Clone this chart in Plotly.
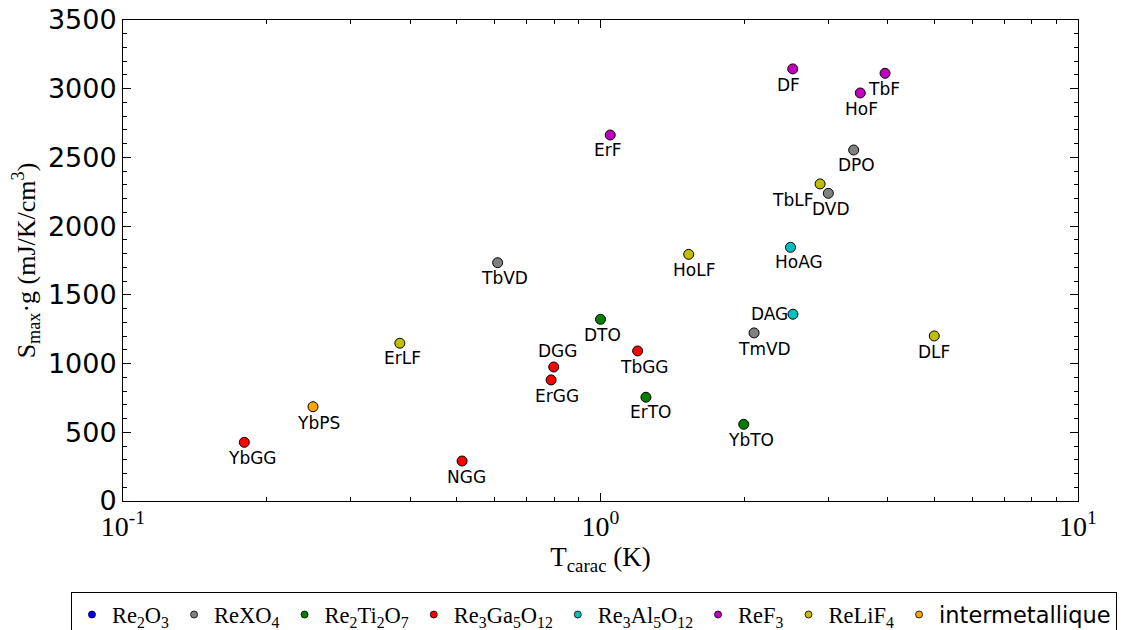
import numpy as np
import plotly.graph_objects as go

# ---- data ----
names = ["YbGG", "YbPS", "NGG", "ErLF", "TbVD", "DGG", "ErGG", "DTO", "TbGG", "ErTO",
         "YbTO", "TmVD", "DAG", "HoAG", "HoLF", "ErF", "DF", "HoF", "TbF", "DPO",
         "TbLF", "DVD", "DLF"]
t_carac = [0.1795, 0.250, 0.513, 0.380, 0.609, 0.798, 0.788, 1.00, 1.196, 1.245,
           1.995, 2.097, 2.53, 2.50, 1.53, 1.048, 2.527, 3.50, 3.944, 3.39,
           2.883, 3.00, 5.00]
s_max_g = [427, 686, 291, 1148, 1734, 975, 881, 1322, 1092, 755,
           558, 1223, 1359, 1846, 1795, 2663, 3144, 2969, 3112, 2554,
           2307, 2239, 1201]
families = ["Re3Ga5O12", "intermetallique", "Re3Ga5O12", "ReLiF4", "ReXO4", "Re3Ga5O12",
            "Re3Ga5O12", "Re2Ti2O7", "Re3Ga5O12", "Re2Ti2O7", "Re2Ti2O7", "ReXO4",
            "Re3Al5O12", "Re3Al5O12", "ReLiF4", "ReF3", "ReF3", "ReF3", "ReF3", "ReXO4",
            "ReLiF4", "ReXO4", "ReLiF4"]
family_order = ["Re2O3", "ReXO4", "Re2Ti2O7", "Re3Ga5O12", "Re3Al5O12", "ReF3", "ReLiF4",
                "intermetallique"]
family_labels = ["Re<sub>2</sub>O<sub>3</sub>", "ReXO<sub>4</sub>",
                 "Re<sub>2</sub>Ti<sub>2</sub>O<sub>7</sub>",
                 "Re<sub>3</sub>Ga<sub>5</sub>O<sub>12</sub>",
                 "Re<sub>3</sub>Al<sub>5</sub>O<sub>12</sub>",
                 "ReF<sub>3</sub>", "ReLiF<sub>4</sub>",
                 "<span style='font-family:DejaVu Sans'>intermetallique</span>"]
x_tick_vals = [0.1, 1, 10]
x_tick_text = ["10<sup>-1</sup>", "10<sup>0</sup>", "10<sup>1</sup>"]

# ---- styles ----
family_colors = {"Re2O3": "#0000ff", "ReXO4": "#808080", "Re2Ti2O7": "#007f00",
                 "Re3Ga5O12": "#ff0000", "Re3Al5O12": "#00bfbf", "ReF3": "#bf00bf",
                 "ReLiF4": "#bfbf00", "intermetallique": "#ffa500"}
# label offsets in pixels (dx right, dy down) relative to marker
label_offsets = {"YbGG": (8, 16), "YbPS": (5, 16), "NGG": (4, 16), "ErLF": (3, 15),
                 "TbVD": (7, 15), "DGG": (4, -16), "ErGG": (6, 16), "DTO": (2, 16),
                 "TbGG": (7, 16), "ErTO": (5, 15), "YbTO": (7, 16), "TmVD": (10, 16),
                 "DAG": (-23, 0), "HoAG": (8, 15), "HoLF": (5, 16), "ErF": (-2, 15),
                 "DF": (-4, 16), "HoF": (1, 16), "TbF": (-1, 16), "DPO": (3, 15),
                 "TbLF": (-28, 16), "DVD": (3, 16), "DLF": (0, 16)}

SERIF = "Liberation Serif"
SANS = "DejaVu Sans"

fig = go.Figure()

for fam, lab in zip(family_order, family_labels):
    xs = [t for t, f in zip(t_carac, families) if f == fam]
    ys = [s for s, f in zip(s_max_g, families) if f == fam]
    if xs:
        fig.add_trace(go.Scatter(x=xs, y=ys, mode="markers", showlegend=False,
                                 marker=dict(size=10, color=family_colors[fam],
                                             line=dict(color="black", width=1))))
    # legend-only entry
    fig.add_trace(go.Scatter(x=[None], y=[None], mode="markers", name=lab,
                             marker=dict(size=7, color=family_colors[fam],
                                         line=dict(color="black", width=0.8))))

for n, t, s in zip(names, t_carac, s_max_g):
    dx, dy = label_offsets[n]
    fig.add_annotation(x=np.log10(t), y=s, text=n, showarrow=False,
                       xshift=dx, yshift=-dy, font=dict(family=SANS, size=17, color="black"))

# the page body adds an 8px offset; the figure size compensates for it
fig.update_layout(
    width=1123, height=622,
    margin=dict(l=115, r=53, t=12, b=129, autoexpand=False),
    plot_bgcolor="white", paper_bgcolor="white",
    showlegend=True,
    legend=dict(orientation="h", x=-0.0545, y=-0.190, xanchor="left", yanchor="top",
                bordercolor="black", borderwidth=1, bgcolor="white",
                font=dict(family=SERIF, size=22.5, color="black"),
                itemwidth=30, tracegroupgap=0),
)

fig.update_xaxes(
    type="log", range=[-1, 1], automargin=False, ticklabeloverflow="allow",
    tickmode="array", tickvals=x_tick_vals, ticktext=x_tick_text,
    ticks="inside", ticklen=8, tickwidth=1, tickcolor="black",
    showline=True, linecolor="black", linewidth=1, mirror="ticks",
    showgrid=False, zeroline=False,
    tickfont=dict(family=SERIF, size=28, color="black"),
    minor=dict(tickmode="array",
               tickvals=[0.2, 0.3, 0.4, 0.5, 0.6, 0.7, 0.8, 0.9, 2, 3, 4, 5, 6, 7, 8, 9],
               ticks="inside", ticklen=4, tickcolor="black", showgrid=False),
    title=dict(text="T<sub>carac</sub> (K)", font=dict(family=SERIF, size=27, color="black"),
               standoff=6),
)
fig.update_yaxes(
    range=[0, 3500], tickmode="linear", tick0=0, dtick=500, automargin=False,
    ticklabeloverflow="allow",
    ticks="inside", ticklen=8, tickwidth=1, tickcolor="black",
    showline=True, linecolor="black", linewidth=1, mirror="ticks",
    showgrid=False, zeroline=False,
    tickfont=dict(family=SANS, size=27, color="black"),
    minor=dict(dtick=100, ticks="inside", ticklen=4, tickcolor="black", showgrid=False),
    title=dict(text="S<sub>max</sub>·g (mJ/K/cm<sup>3</sup>)",
               font=dict(family=SERIF, size=26, color="black"), standoff=6),
)

fig.write_html("out.html")
